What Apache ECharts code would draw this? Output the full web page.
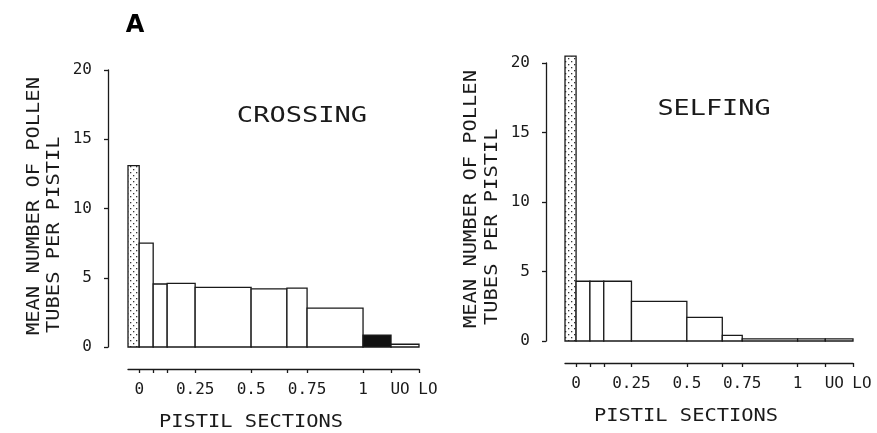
<!DOCTYPE html>
<html>
<head>
<meta charset="utf-8">
<script src="https://cdn.jsdelivr.net/npm/echarts@6/dist/echarts.min.js"></script>
<style>
  html, body { margin: 0; padding: 0; background: #fff; }
  #chart { width: 877px; height: 433px; }
</style>
</head>
<body>
<div id="chart"></div>
<script>
// section edges along the pistil (first bar = stigma, left of 0)
const edges = [-0.05, 0, 0.0625, 0.125, 0.25, 0.5, 0.66, 0.75, 1, 1.125, 1.25];
// mean number of pollen tubes per pistil in each section
const crossing = [13.1, 7.5, 4.55, 4.6, 4.3, 4.2, 4.25, 2.8, 0.85, 0.2];
const selfing = [20.5, 4.3, 4.3, 4.3, 2.85, 1.7, 0.4, 0.15, 0.15, 0.15];
// x axis ticks and labels
const tickValues = [0, 0.0625, 0.125, 0.25, 0.5, 0.66, 0.75, 1, 1.125, 1.25];
const labelValues = [0, 0.25, 0.5, 0.75, 1, 1.125, 1.25];
const labelTexts = ['0', '0.25', '0.5', '0.75', '1', 'UO', 'LO'];

const ink = '#1a1a1a';
const mono = 'DejaVu Sans Mono';

// stipple pattern for the stigma bar
const pc = document.createElement('canvas');
pc.width = 6; pc.height = 6;
const pctx = pc.getContext('2d');
pctx.fillStyle = '#fff';
pctx.fillRect(0, 0, 6, 6);
pctx.fillStyle = '#333';
pctx.fillRect(1, 1, 1.3, 1.3);
pctx.fillRect(4, 4, 1.3, 1.3);
const stipple = { image: pc, repeat: 'repeat' };

function toData(vals) {
    return vals.map((v, i) => [edges[i], edges[i + 1], v]);
}

function barRenderer(fills) {
    return function (params, api) {
        const p0 = api.coord([api.value(0), api.value(2)]);
        const p1 = api.coord([api.value(1), 0]);
        return {
            type: 'rect',
            shape: { x: p0[0], y: p0[1], width: p1[0] - p0[0], height: p1[1] - p0[1] },
            style: { fill: fills[params.dataIndex] || '#fff', stroke: ink, lineWidth: 1.3 }
        };
    };
}

function xAxisFor(gridIndex, offset) {
    return {
        gridIndex: gridIndex,
        type: 'value',
        min: -0.05,
        max: 1.25,
        offset: offset,
        splitLine: { show: false },
        axisLine: { show: true, onZero: false, lineStyle: { color: ink, width: 1.3 } },
        axisTick: { show: true, customValues: tickValues, length: 4, lineStyle: { color: ink, width: 1.3 } },
        axisLabel: {
            customValues: labelValues,
            margin: 13,
            color: ink,
            fontFamily: mono,
            fontSize: 16,
            formatter: function (v) {
                const i = labelValues.findIndex(l => Math.abs(l - v) < 1e-6);
                const t = i < 0 ? '' : labelTexts[i];
                return (t === 'UO' || t === 'LO') ? '{s|' + t + '}' : t;
            },
            rich: { s: { fontFamily: mono, fontSize: 16, color: ink, padding: [0, 0, 0, 18] } }
        }
    };
}

function yAxisFor(gridIndex, offset) {
    return {
        gridIndex: gridIndex,
        type: 'value',
        min: 0,
        max: 20,
        interval: 5,
        offset: offset,
        splitLine: { show: false },
        axisLine: { show: true, onZero: false, lineStyle: { color: ink, width: 1.3 } },
        axisTick: { show: true, length: 4, lineStyle: { color: ink, width: 1.3 } },
        axisLabel: { margin: 16, color: ink, fontFamily: mono, fontSize: 16 }
    };
}

function stretchedText(text, x, y, size, sx, rot, align) {
    return {
        type: 'text',
        x: x, y: y,
        rotation: rot || 0,
        scaleX: sx,
        style: {
            text: text,
            fill: ink,
            font: size + 'px "' + mono + '"',
            align: align || 'center',
            verticalAlign: 'middle'
        }
    };
}

const chart = echarts.init(document.getElementById('chart'));
chart.setOption({
    animation: false,
    backgroundColor: '#fff',
    grid: [
        { left: 128, top: 70, width: 291, height: 277 },
        { left: 565, top: 63, width: 288, height: 278 }
    ],
    xAxis: [xAxisFor(0, 22), xAxisFor(1, 22)],
    yAxis: [yAxisFor(0, 20), yAxisFor(1, 19)],
    series: [
        {
            type: 'custom', xAxisIndex: 0, yAxisIndex: 0,
            renderItem: barRenderer({ 0: stipple, 8: '#111' }),
            encode: { x: [0, 1], y: 2 },
            data: toData(crossing)
        },
        {
            type: 'custom', xAxisIndex: 1, yAxisIndex: 1,
            renderItem: barRenderer({ 0: stipple }),
            encode: { x: [0, 1], y: 2 },
            data: toData(selfing)
        }
    ],
    graphic: [
        {
            type: 'text', x: 135, y: 26,
            style: { text: 'A', fill: '#000', font: 'bold 24px "DejaVu Sans"', align: 'center', verticalAlign: 'middle' }
        },
        stretchedText('CROSSING', 302, 116, 22, 1.23),
        stretchedText('SELFING', 714, 109, 22, 1.22),
        stretchedText('PISTIL SECTIONS', 251, 423, 17, 1.2),
        stretchedText('PISTIL SECTIONS', 686, 417, 17, 1.2),
        stretchedText('MEAN NUMBER OF POLLEN', 35, 335, 17, 1.2, Math.PI / 2, 'left'),
        stretchedText('TUBES PER PISTIL', 55, 333, 17, 1.2, Math.PI / 2, 'left'),
        stretchedText('MEAN NUMBER OF POLLEN', 472, 328, 17, 1.2, Math.PI / 2, 'left'),
        stretchedText('TUBES PER PISTIL', 493, 325, 17, 1.2, Math.PI / 2, 'left')
    ]
});
</script>
</body>
</html>
